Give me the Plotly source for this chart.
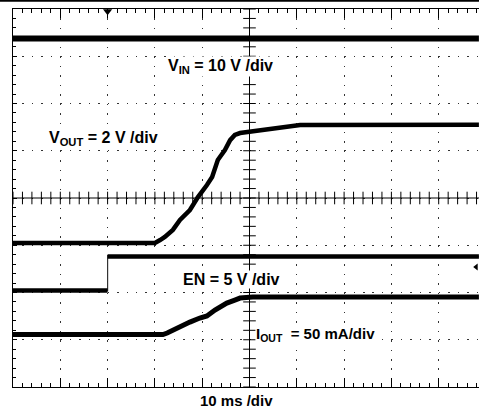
import numpy as np
import plotly.graph_objects as go

# ---------------- data (read from the scope screen) ----------------
# time in ms from left edge of screen, 10 ms/div
t_vin = [0, 98.5]
vin_v = [10, 10]

t_vout = [0, 30.0, 31.1, 32.1, 33.8, 35.3, 37.4, 39.1, 41.0, 42.1, 43.3, 44.8,
          45.9, 46.9, 48.0, 49.5, 51.6, 56.4, 60.7, 98.5]
vout_v = [0, 0, 0.12, 0.25, 0.55, 0.97, 1.39, 1.94, 2.45, 2.79, 3.51, 3.93,
          4.35, 4.57, 4.65, 4.69, 4.78, 4.91, 4.99, 5.0]

t_en = [0, 20, 20, 98.5]
en_v = [0, 0, 3.6, 3.6]

t_iout = [0, 31.7, 32.6, 33.8, 35.3, 37.4, 39.5, 41.0, 42.7, 45.2, 46.9, 48.0, 50.7, 98.5]
iout_ma = [0, 0, 1.6, 4.8, 7.9, 13.2, 17.5, 19.6, 25.9, 33.3, 36.5, 38.6, 39.7, 39.7]

trigger_time = 20      # ms
trigger_level = 2.5    # V on EN

labels = {
    "vin": "V<sub>IN</sub> = 10 V /div",
    "vout": "V<sub>OUT</sub> = 2 V /div",
    "en": "EN = 5 V /div",
    "iout": "I<sub>OUT</sub>  = 50 mA/div",
    "time": "10 ms /div",
}

# ---------------- channel settings (scale per div, ground position in div) --------
ch = {
    "vin": dict(scale=10, offset=6.375),
    "vout": dict(scale=2, offset=3.05),
    "en": dict(scale=5, offset=2.04),
    "iout": dict(scale=50, offset=1.11),
}

W, H = 479, 416
PX_L, PX_R, PX_T, PX_B = 13, 479, 9, 387
DIV_X = 47.3
X_MAX = (PX_R - PX_L) / DIV_X * 10


def to_div(vals, c):
    return [ch[c]["offset"] + v / ch[c]["scale"] for v in vals]


def px(x):
    return (x - PX_L) / (PX_R - PX_L)


def py(y):
    return (PX_B - y) / (PX_B - PX_T)


FONT = "Arial, Liberation Sans, sans-serif"
fig = go.Figure()

# center cross ticks
xt = np.arange(0, X_MAX, 2)
fig.add_trace(go.Scatter(x=xt, y=[4] * len(xt), mode="markers",
                         marker=dict(symbol="line-ns", size=9, line=dict(width=1, color="black")),
                         hoverinfo="skip", showlegend=False))
yt = np.arange(0, 8.01, 0.2)
fig.add_trace(go.Scatter(x=[50] * len(yt), y=yt, mode="markers",
                         marker=dict(symbol="line-ew", size=9, line=dict(width=1, color="black")),
                         hoverinfo="skip", showlegend=False))

LW = 4.5
fig.add_trace(go.Scatter(x=t_vin, y=to_div(vin_v, "vin"), mode="lines",
                         line=dict(color="black", width=6), showlegend=False))
fig.add_trace(go.Scatter(x=t_vout, y=to_div(vout_v, "vout"), mode="lines",
                         line=dict(color="black", width=LW), showlegend=False))
# EN: thin full trace plus thick horizontal levels
fig.add_trace(go.Scatter(x=t_en, y=to_div(en_v, "en"), mode="lines",
                         line=dict(color="#333", width=1.2), showlegend=False))
en_x, en_y = [], []
en_d = to_div(en_v, "en")
for i, (tx, vy) in enumerate(zip(t_en, en_d)):
    if i > 0 and tx == t_en[i - 1]:
        en_x.append(None)
        en_y.append(None)
    en_x.append(tx)
    en_y.append(vy)
fig.add_trace(go.Scatter(x=en_x, y=en_y, mode="lines", connectgaps=False,
                         line=dict(color="black", width=LW), showlegend=False))
fig.add_trace(go.Scatter(x=t_iout, y=to_div(iout_ma, "iout"), mode="lines",
                         line=dict(color="black", width=LW + 0.5), showlegend=False))

# trigger markers
fig.add_trace(go.Scatter(x=[trigger_time], y=[8 - 0.05], mode="markers", cliponaxis=False,
                         marker=dict(symbol="triangle-down", size=8, color="black"),
                         showlegend=False))
fig.add_trace(go.Scatter(x=[X_MAX - 0.6], y=[ch["en"]["offset"] + trigger_level / ch["en"]["scale"]],
                         mode="markers", cliponaxis=False,
                         marker=dict(symbol="triangle-left", size=6, color="black"),
                         showlegend=False))

shapes = [
    dict(type="line", xref="x", yref="y", x0=50, x1=50, y0=0, y1=8,
         line=dict(color="black", width=1), layer="between"),
    dict(type="line", xref="x", yref="y", x0=0, x1=X_MAX, y0=4, y1=4,
         line=dict(color="black", width=1), layer="between"),
    dict(type="line", xref="paper", yref="paper", x0=-0.05, x1=1.05,
         y0=py(0.8), y1=py(0.8), line=dict(color="black", width=2)),
]

ann = []
def add_text(key, x, y, size=16):
    ann.append(dict(text="<b>" + labels[key] + "</b>", xref="paper", yref="paper",
                    x=px(x), y=py(y), xanchor="left", yanchor="middle", showarrow=False,
                    bgcolor="white", borderpad=0,
                    font=dict(family=FONT, size=size, color="black")))

add_text("vin", 167, 66)
add_text("vout", 48, 138)
add_text("en", 182, 279)
add_text("iout", 255, 334, size=15)
add_text("time", 199, 400, size=15)

grid_dash = "1.5px,7.96px"
fig.update_layout(
    width=W, height=H,
    margin=dict(l=PX_L, r=W - PX_R, t=PX_T, b=H - PX_B, pad=0),
    paper_bgcolor="white", plot_bgcolor="white",
    shapes=shapes, annotations=ann,
    xaxis=dict(range=[0, X_MAX], dtick=10, tick0=0, showticklabels=False,
               showline=True, linecolor="black", linewidth=1, mirror="ticks",
               ticks="inside", ticklen=9, tickcolor="black", tickwidth=1,
               showgrid=True, gridcolor="#333", gridwidth=1.4, griddash=grid_dash,
               zeroline=False, fixedrange=True,
               minor=dict(dtick=2, tick0=0, ticks="inside", ticklen=4, tickcolor="black",
                          tickwidth=1, showgrid=False)),
    yaxis=dict(range=[0, 8], dtick=1, tick0=0, showticklabels=False,
               showline=True, linecolor="black", linewidth=1, mirror=False,
               ticks="inside", ticklen=4, tickcolor="black", tickwidth=1,
               showgrid=True, gridcolor="#333", gridwidth=1.4, griddash=grid_dash,
               zeroline=False, fixedrange=True,
               minor=dict(dtick=0.2, tick0=0, ticks="inside", ticklen=3, tickcolor="black",
                          tickwidth=1, showgrid=False)),
)

fig.write_html("out.html", config={"displayModeBar": False},
               post_script="document.body.style.margin='0';document.body.style.overflow='hidden';")
